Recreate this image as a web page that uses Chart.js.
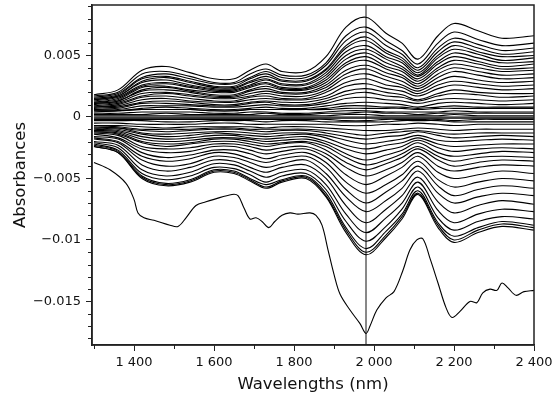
<!DOCTYPE html>
<html>
<head>
<meta charset="utf-8">
<script src="https://cdn.jsdelivr.net/npm/chart.js@4.4.1/dist/chart.umd.min.js"></script>
<style>
  html, body { margin: 0; padding: 0; background: #fff; }
  #wrap { width: 555px; height: 407px; }
</style>
</head>
<body>
<div id="wrap"><canvas id="spectra"></canvas></div>
<script>
// absorbance values are in units of 1e-4 (axis labels show the real values)
const wavelengths = [1300, 1360, 1420, 1480, 1540, 1600, 1650, 1690, 1730, 1770, 1830, 1880,
  1930, 1980, 2030, 2070, 2110, 2160, 2200, 2260, 2320, 2400];

const upperSpectra = [
  [18, 22, 38, 41, 36, 31, 31, 38, 43, 37, 37, 49, 73, 81, 68, 60, 47, 66, 76, 70, 64, 66],
  [17, 20, 35, 37, 33, 28, 28, 35, 39, 34, 34, 44, 66, 73, 62, 54, 43, 60, 69, 63, 58, 60],
  [16, 19, 32, 35, 31, 27, 27, 32, 37, 32, 32, 42, 62, 69, 58, 51, 40, 56, 64, 59, 54, 56],
  [15, 18, 31, 33, 29, 25, 25, 31, 35, 30, 30, 39, 58, 65, 54, 48, 38, 53, 61, 56, 51, 53],
  [14, 17, 29, 32, 28, 24, 24, 29, 33, 29, 29, 38, 56, 62, 52, 46, 36, 50, 58, 53, 49, 50],
  [14, 17, 28, 30, 26, 23, 23, 28, 31, 27, 27, 36, 53, 58, 49, 44, 34, 48, 55, 51, 46, 48],
  [13, 16, 26, 28, 25, 22, 22, 26, 30, 26, 26, 34, 50, 55, 47, 41, 33, 45, 52, 48, 44, 45],
  [12, 15, 25, 27, 24, 21, 21, 25, 28, 24, 24, 32, 47, 52, 44, 39, 31, 43, 49, 45, 41, 43],
  [12, 14, 24, 25, 22, 20, 20, 24, 27, 23, 23, 30, 44, 49, 41, 37, 29, 40, 46, 43, 39, 40],
  [11, 13, 22, 24, 21, 18, 18, 22, 25, 22, 22, 28, 42, 46, 39, 34, 27, 38, 43, 40, 37, 38],
  [11, 13, 21, 22, 20, 17, 17, 21, 23, 20, 20, 26, 38, 42, 36, 32, 25, 35, 40, 37, 34, 35],
  [10, 12, 19, 20, 18, 16, 16, 19, 21, 19, 19, 24, 35, 39, 33, 29, 23, 32, 37, 34, 31, 32],
  [9, 11, 17, 19, 17, 15, 15, 17, 19, 17, 17, 22, 32, 35, 30, 26, 21, 29, 33, 30, 28, 29],
  [8, 10, 16, 17, 15, 13, 13, 16, 17, 15, 15, 20, 28, 31, 26, 24, 19, 26, 29, 27, 25, 26],
  [8, 9, 14, 15, 13, 12, 12, 14, 15, 14, 14, 17, 25, 27, 23, 21, 17, 23, 26, 24, 22, 23],
  [7, 8, 12, 13, 12, 10, 10, 12, 13, 12, 12, 15, 21, 23, 20, 18, 14, 19, 22, 20, 19, 19],
  [6, 7, 11, 11, 10, 9, 9, 11, 12, 10, 10, 13, 18, 20, 17, 16, 13, 17, 19, 18, 16, 17],
  [6, 6, 9, 9, 9, 8, 8, 9, 10, 9, 9, 11, 15, 16, 14, 13, 11, 14, 15, 14, 13, 14],
  [5, 5, 7, 8, 7, 6, 6, 7, 8, 7, 7, 9, 11, 12, 11, 10, 8, 11, 12, 11, 10, 11],
  [4, 5, 6, 6, 6, 5, 5, 6, 6, 6, 6, 7, 9, 9, 8, 8, 7, 8, 9, 8, 8, 8]
];

const middleSpectra = [
  [5, 5, 6, 6, 6, 5, 5, 6, 6, 6, 6, 6, 7, 7, 7, 7, 6, 7, 7, 7, 7, 7],
  [3, 3, 4, 4, 4, 3, 3, 4, 4, 3, 3, 4, 5, 5, 4, 4, 4, 4, 5, 4, 4, 4],
  [2, 2, 2, 3, 2, 2, 2, 2, 3, 2, 2, 3, 3, 4, 3, 3, 2, 3, 3, 3, 3, 3],
  [1, 1, 1, 1, 1, 1, 1, 1, 1, 1, 1, 1, 2, 2, 1, 1, 1, 1, 2, 1, 1, 1],
  [0, 0, 0, 0, 0, 0, 0, 0, 0, 0, 0, 0, 0, 0, 0, 0, 0, 0, 0, 0, 0, 0],
  [-1, -1, -1, -1, -1, -1, -1, -1, -1, -1, -1, -1, -1, -1, -1, -1, -1, -1, -1, -1, -1, -1],
  [-2, -2, -2, -2, -2, -2, -2, -2, -2, -2, -2, -2, -3, -3, -2, -2, -2, -2, -3, -2, -2, -2],
  [-3, -3, -3, -4, -4, -3, -3, -3, -4, -3, -3, -4, -4, -4, -4, -3, -3, -3, -4, -4, -4, -4],
  [-5, -5, -6, -6, -6, -5, -5, -6, -6, -6, -6, -6, -7, -7, -6, -6, -5, -6, -7, -6, -6, -6]
];

const lowerSpectra = [
  [-24, -29, -50, -56, -53, -45, -46, -52, -58, -53, -50, -65, -94, -112, -98, -83, -63, -90, -102, -94, -89, -92],
  [-24, -29, -49, -55, -52, -44, -45, -51, -57, -52, -49, -64, -92, -110, -96, -81, -62, -88, -100, -92, -87, -90],
  [-23, -28, -48, -54, -51, -43, -44, -50, -55, -51, -48, -62, -90, -107, -93, -79, -60, -86, -97, -90, -85, -88],
  [-22, -27, -46, -51, -48, -41, -42, -47, -53, -48, -46, -59, -85, -101, -89, -75, -57, -82, -92, -85, -81, -83],
  [-21, -25, -43, -48, -45, -38, -39, -44, -49, -45, -43, -55, -79, -94, -82, -70, -53, -76, -86, -79, -75, -77],
  [-20, -23, -39, -44, -41, -35, -36, -41, -45, -41, -39, -50, -72, -86, -75, -64, -49, -69, -78, -72, -68, -71],
  [-18, -21, -35, -40, -38, -32, -33, -37, -41, -38, -35, -46, -65, -77, -68, -58, -44, -62, -70, -65, -62, -64],
  [-17, -20, -32, -36, -34, -29, -30, -34, -37, -34, -32, -41, -59, -70, -61, -52, -40, -56, -64, -59, -56, -58],
  [-16, -18, -29, -33, -31, -27, -27, -30, -34, -31, -29, -37, -53, -62, -55, -47, -36, -51, -57, -53, -50, -52],
  [-14, -17, -26, -29, -28, -24, -24, -27, -30, -28, -26, -33, -47, -55, -48, -41, -32, -45, -50, -47, -44, -46],
  [-13, -15, -24, -26, -25, -22, -22, -24, -27, -25, -24, -30, -41, -48, -43, -37, -29, -40, -44, -41, -39, -40],
  [-12, -14, -21, -24, -22, -20, -20, -22, -24, -22, -21, -27, -37, -43, -38, -33, -26, -35, -40, -37, -35, -36],
  [-12, -13, -20, -22, -21, -18, -18, -20, -22, -21, -20, -24, -33, -39, -35, -30, -24, -32, -36, -33, -32, -33],
  [-11, -12, -18, -20, -19, -17, -17, -18, -20, -19, -18, -22, -30, -35, -31, -27, -21, -29, -32, -30, -28, -29],
  [-10, -11, -16, -18, -17, -15, -15, -17, -18, -17, -16, -20, -26, -30, -27, -24, -19, -25, -28, -26, -25, -26],
  [-9, -10, -14, -16, -15, -13, -14, -15, -16, -15, -14, -17, -23, -26, -23, -21, -17, -22, -24, -23, -22, -22],
  [-9, -9, -13, -14, -13, -12, -12, -13, -14, -13, -13, -15, -19, -22, -20, -18, -15, -19, -20, -19, -18, -19],
  [-8, -9, -11, -12, -11, -10, -10, -11, -12, -11, -11, -13, -16, -18, -16, -15, -12, -15, -17, -16, -15, -16],
  [-7, -8, -10, -10, -10, -9, -9, -10, -10, -10, -10, -11, -13, -15, -13, -12, -11, -13, -14, -13, -13, -13],
  [-7, -7, -8, -9, -8, -8, -8, -8, -9, -8, -8, -9, -10, -11, -11, -10, -9, -10, -11, -10, -10, -10]
];

// the one spectrum far below the others, read on a finer grid
const outlierWl = [1300, 1340, 1380, 1400, 1410, 1425, 1450, 1490, 1510, 1530, 1555, 1580, 1600,
  1645, 1660, 1675, 1690, 1705, 1720, 1737, 1752, 1770, 1790, 1810, 1840, 1855, 1870, 1885,
  1900, 1915, 1940, 1965, 1980, 1990, 2007, 2030, 2050, 2072, 2090, 2107, 2122, 2140, 2160,
  2180, 2195, 2215, 2240, 2257, 2272, 2290, 2307, 2320, 2335, 2355, 2375, 2400];
const outlierValues = [-37, -43, -54, -67, -78, -82, -84, -88, -89, -82, -72, -69, -67,
  -63, -64, -74, -83, -82, -85, -90, -85, -80, -78, -79, -78, -80, -88, -108,
  -128, -144, -157, -168, -176, -170, -157, -147, -142, -125, -108, -100, -99, -115, -135,
  -155, -163, -158, -150, -151, -143, -140, -141, -135, -139, -145, -142, -141];

const markerWl = 1980;
const xTicks = [1400, 1600, 1800, 2000, 2200, 2400];
const xTickLabels = ['1 400', '1 600', '1 800', '2 000', '2 200', '2 400'];
const yTicks = [-150, -100, -50, 0, 50];
const yTickLabels = ['−0.015', '−0.01', '−0.005', '0', '0.005'];
const xMin = 1295, xMax = 2400, yMin = -185.4, yMax = 91;

const lineColor = '#000';

function spectrumDataset(xs, ys) {
  return {
    data: xs.map(function(x, i) { return { x: x, y: ys[i] }; }),
    borderColor: lineColor,
    borderWidth: 1.1,
    pointRadius: 0,
    tension: 0.35,
    fill: false
  };
}

const datasets = [];
upperSpectra.concat(middleSpectra, lowerSpectra).forEach(function(s) {
  datasets.push(spectrumDataset(wavelengths, s));
});
datasets.push(spectrumDataset(outlierWl, outlierValues));
datasets.push({
  data: [{ x: markerWl, y: yMin }, { x: markerWl, y: yMax }],
  borderColor: '#111',
  borderWidth: 1,
  pointRadius: 0
});

// minor ticks and the closed frame around the plot
const framePlugin = {
  id: 'frame',
  afterDraw: function(chart) {
    const ctx = chart.ctx;
    const area = chart.chartArea;
    const xs = chart.scales.x, ys = chart.scales.y;
    ctx.save();
    ctx.strokeStyle = '#222';
    ctx.lineWidth = 1;
    ctx.beginPath();
    for (let v = -180; v <= 90; v += 10) {
      if (v % 50 === 0) continue;
      const py = Math.round(ys.getPixelForValue(v)) + 0.5;
      ctx.moveTo(area.left - 4, py);
      ctx.lineTo(area.left, py);
    }
    for (let v = 1300; v <= 2400; v += 200) {
      const px = Math.round(xs.getPixelForValue(v)) + 0.5;
      ctx.moveTo(px, area.bottom);
      ctx.lineTo(px, area.bottom + 4);
    }
    ctx.stroke();
    ctx.lineWidth = 1.5;
    ctx.strokeRect(area.left, area.top, area.right - area.left, area.bottom - area.top);
    ctx.restore();
  }
};

new Chart(document.getElementById('spectra'), {
  type: 'line',
  data: { datasets: datasets },
  options: {
    responsive: true,
    maintainAspectRatio: false,
    animation: false,
    layout: { padding: { left: 0, right: 21, top: 5, bottom: 0 } },
    plugins: {
      legend: { display: false },
      tooltip: { enabled: false }
    },
    scales: {
      x: {
        type: 'linear',
        min: xMin,
        max: xMax,
        afterBuildTicks: function(axis) {
          axis.ticks = xTicks.map(function(v) { return { value: v }; });
        },
        afterFit: function(axis) {
          axis.height = 62;
          axis.paddingLeft = 0;
          axis.paddingRight = 0;
        },
        ticks: {
          color: '#111',
          padding: 4,
          maxRotation: 0,
          font: { family: 'DejaVu Sans', size: 13 },
          callback: function(v) { return xTickLabels[xTicks.indexOf(v)]; }
        },
        grid: { drawOnChartArea: false, tickLength: 6, tickColor: '#222' },
        border: { color: '#222', width: 1.5 },
        title: {
          display: true,
          text: 'Wavelengths (nm)',
          color: '#111',
          font: { family: 'DejaVu Sans', size: 16.5 },
          padding: { top: 0, bottom: 12 }
        }
      },
      y: {
        type: 'linear',
        min: yMin,
        max: yMax,
        afterBuildTicks: function(axis) {
          axis.ticks = yTicks.map(function(v) { return { value: v }; });
        },
        afterFit: function(axis) {
          axis.width = 92;
          axis.paddingTop = 0;
          axis.paddingBottom = 0;
        },
        ticks: {
          color: '#111',
          padding: 5,
          font: { family: 'DejaVu Sans', size: 13 },
          callback: function(v) { return yTickLabels[yTicks.indexOf(v)]; }
        },
        grid: { drawOnChartArea: false, tickLength: 6, tickColor: '#222' },
        border: { color: '#222', width: 1.5 },
        title: {
          display: true,
          text: 'Absorbances',
          color: '#111',
          font: { family: 'DejaVu Sans', size: 16.5 },
          padding: { top: 11, bottom: 0 }
        }
      }
    }
  },
  plugins: [framePlugin]
});
</script>
</body>
</html>
